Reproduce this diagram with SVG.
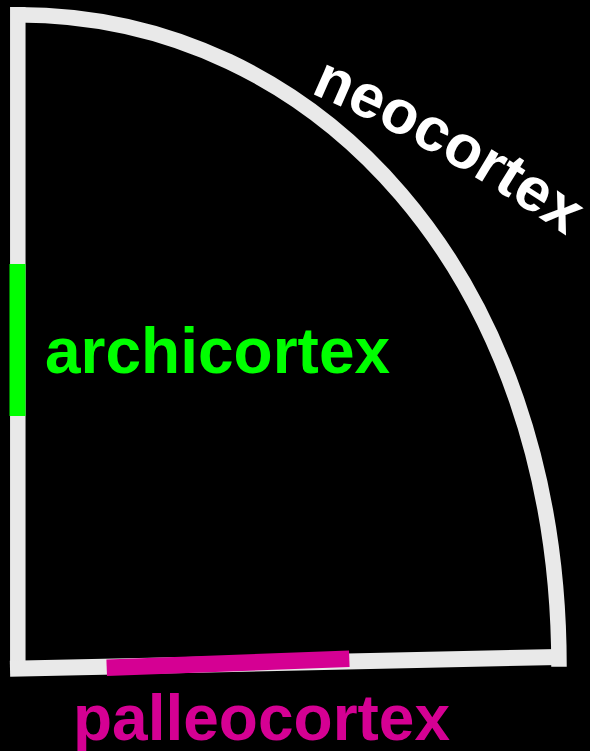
<svg xmlns="http://www.w3.org/2000/svg" width="590" height="751" viewBox="0 0 590 751">
  <style>
    .wall { fill: none; stroke: #e9e9e9; stroke-linecap: butt; stroke-linejoin: miter; }
    .lbl { font-family: "Liberation Sans", Arial, sans-serif; font-weight: bold; font-size: 64px; }
  </style>
  <defs>
    <path id="neoPath" d="M 310,93 Q 440,148 578,244"/>
  </defs>
  <rect x="0" y="0" width="590" height="751" fill="#000000"/>
  <g id="frame">
    <path class="wall" stroke-width="15.5" d="M 17.8,7 V 669"/>
    <path class="wall" stroke-width="16" d="M 10,668.7 L 559,657"/>
    <path class="wall" stroke-width="15.5" d="M 17.8,14.7 C 318,14.7 559,276 559,666.7"/>
  </g>
  <g id="archicortex">
    <rect x="9.5" y="264" width="16" height="152" fill="#00ff00"/>
    <text class="lbl" x="45" y="373" fill="#00ff00" font-size="63.5">archicortex</text>
  </g>
  <g id="palleocortex">
    <path d="M 106.7,667.7 L 349.3,658.8" stroke="#d50093" stroke-width="16.5" fill="none"/>
    <text class="lbl" x="73" y="740" fill="#d50093">palleocortex</text>
  </g>
  <g id="neocortex">
    <text class="lbl" fill="#ffffff" style="font-size:61.5px"><textPath href="#neoPath">neocortex</textPath></text>
  </g>
</svg>
